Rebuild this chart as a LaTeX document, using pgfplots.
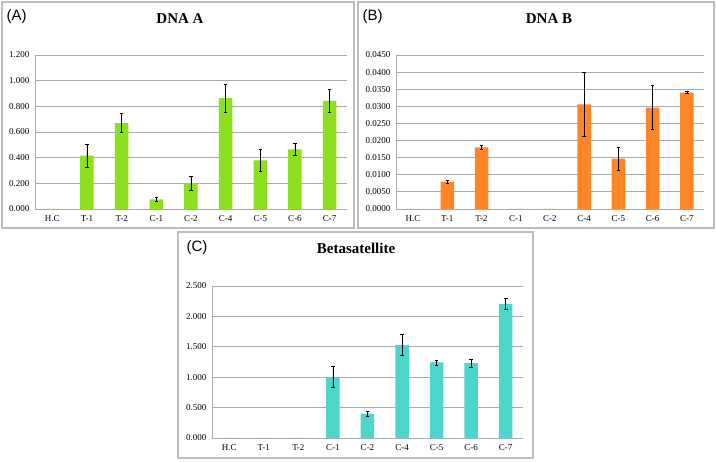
\documentclass[border=0pt]{standalone}
\usepackage{pgfplots}
\pgfplotsset{compat=1.18}
\usepackage{fontspec}
\setmainfont{Liberation Serif}
\newfontfamily\arialfont{Liberation Sans}
\definecolor{cgreen}{RGB}{141,224,32}
\definecolor{corange}{RGB}{255,133,39}
\definecolor{cturq}{RGB}{78,214,206}
\definecolor{gridc}{RGB}{165,172,176}
\definecolor{framec}{RGB}{185,190,192}
\pgfplotsset{panel/.style={
  scale only axis, anchor=south west,
  ymin=0, xmin=-0.5, xmax=8.5,
  xtick={0,...,8},
  xticklabels={H.C,T-1,T-2,C-1,C-2,C-4,C-5,C-6,C-7},
  axis x line*=bottom, axis y line*=left,
  axis line style={gridc, line width=0.9pt, -},
  ymajorgrids, grid style={gridc, line width=0.9pt},
  major tick length=0pt,
  tick label style={font=\fontsize{9}{10}\selectfont},
  xticklabel style={yshift=-3pt},
  yticklabel style={xshift=-2pt},
  /pgf/number format/assume math mode=true,
  scaled y ticks=false,
  ybar, bar width=13.5pt,
  error bars/y dir=both, error bars/y explicit,
  error bars/error bar style={black, line width=0.7pt},
  error bars/error mark options={black, line width=0.7pt, rotate=90, mark size=1.8pt},
}}
\begin{document}
\begin{tikzpicture}
\path (0pt,0pt) rectangle (716pt,462pt);
% frames
\draw[framec, line width=1.1pt] (2pt,460pt) rectangle (354pt,234pt);
\draw[framec, line width=1.1pt] (358pt,460pt) rectangle (714pt,234pt);
\draw[framec, line width=1.1pt] (178pt,230pt) rectangle (533pt,4pt);
% Panel A
\begin{axis}[panel, at={(35pt,253pt)}, width=312pt, height=154pt,
  ymax=1.2, ytick={0,0.2,...,1.2},
  yticklabel style={/pgf/number format/.cd, fixed, fixed zerofill, precision=3}]
\addplot[fill=cgreen, draw=none] coordinates {
 (0,0) +- (0,0)
 (1,0.415) +- (0,0.090)
 (2,0.670) +- (0,0.075)
 (3,0.075) +- (0,0.016)
 (4,0.200) +- (0,0.052)
 (5,0.863) +- (0,0.110)
 (6,0.379) +- (0,0.087)
 (7,0.465) +- (0,0.047)
 (8,0.843) +- (0,0.090)
};
\end{axis}
% Panel B
\begin{axis}[panel, at={(396pt,253pt)}, width=308pt, height=154pt,
  ymax=0.045, ytick={0,0.005,...,0.0451},
  yticklabel style={/pgf/number format/.cd, fixed, fixed zerofill, precision=4}]
\addplot[fill=corange, draw=none] coordinates {
 (0,0) +- (0,0)
 (1,0.0080) +- (0,0.0005)
 (2,0.0180) +- (0,0.0005)
 (3,0) +- (0,0)
 (4,0) +- (0,0)
 (5,0.0306) +- (0,0.0093)
 (6,0.0147) +- (0,0.0034)
 (7,0.0296) +- (0,0.0064)
 (8,0.0340) +- (0,0.0003)
};
\end{axis}
% Panel C
\begin{axis}[panel, at={(212pt,24pt)}, width=311pt, height=152pt,
  ymax=2.5, ytick={0,0.5,...,2.5},
  yticklabel style={/pgf/number format/.cd, fixed, fixed zerofill, precision=3}]
\addplot[fill=cturq, draw=none] coordinates {
 (0,0) +- (0,0)
 (1,0) +- (0,0)
 (2,0) +- (0,0)
 (3,1.000) +- (0,0.175)
 (4,0.400) +- (0,0.040)
 (5,1.532) +- (0,0.175)
 (6,1.242) +- (0,0.040)
 (7,1.231) +- (0,0.062)
 (8,2.205) +- (0,0.086)
};
\end{axis}
% titles
\node[font=\fontsize{15}{18}\selectfont\bfseries] at (180pt,443pt) {DNA A};
\node[font=\fontsize{15}{18}\selectfont\bfseries] at (549pt,443pt) {DNA B};
\node[font=\fontsize{15}{18}\selectfont\bfseries] at (356pt,214pt) {Betasatellite};
\node[font=\arialfont\fontsize{15}{18}\selectfont, anchor=west] at (3pt,445pt) {(A)};
\node[font=\arialfont\fontsize{15}{18}\selectfont, anchor=west] at (359pt,445pt) {(B)};
\node[font=\arialfont\fontsize{15}{18}\selectfont, anchor=west] at (183pt,214pt) {(C)};
\end{tikzpicture}
\end{document}
